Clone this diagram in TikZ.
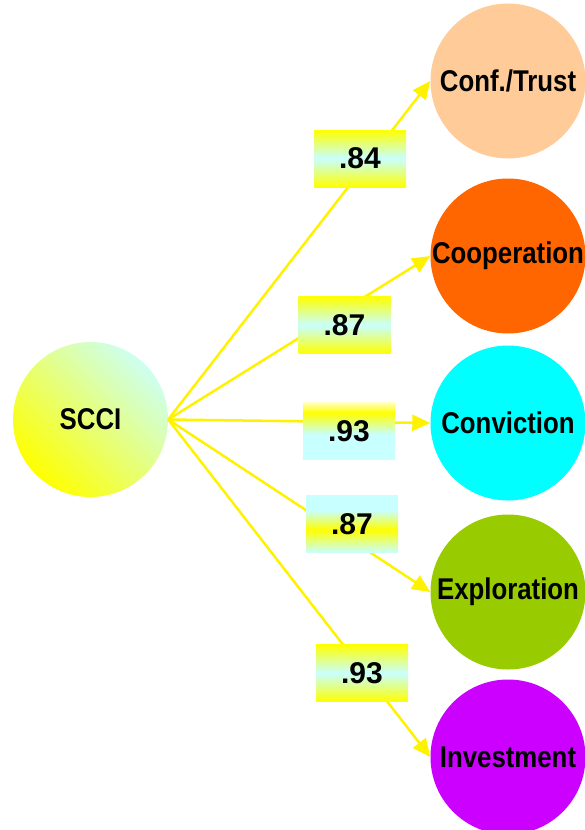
\documentclass[tikz,border=0pt]{standalone}
\usepackage{fontspec}
\setmainfont{Liberation Sans}
\newfontfamily\condfont{Liberation Sans}[FakeStretch=0.86]
\usetikzlibrary{arrows.meta}

\definecolor{paleCyan}{RGB}{200,255,255}
\definecolor{paleYellow}{RGB}{255,255,190}
\definecolor{rootCyan}{RGB}{205,255,240}
\definecolor{peach}{RGB}{255,204,153}
\definecolor{orangeC}{RGB}{255,102,0}
\definecolor{cyanC}{RGB}{0,255,255}
\definecolor{greenC}{RGB}{153,204,0}
\definecolor{purpleC}{RGB}{204,0,255}

% label box fills: the 25bp..75bp band is mapped onto the box (bottom..top)
\pgfdeclareverticalshading{ycy}{100bp}{color(0bp)=(yellow); color(25bp)=(yellow); color(50bp)=(paleCyan); color(75bp)=(yellow); color(100bp)=(yellow)}
\pgfdeclareverticalshading{wyc}{100bp}{color(0bp)=(paleCyan); color(25bp)=(paleCyan); color(47bp)=(paleCyan); color(66bp)=(yellow); color(75bp)=(paleYellow); color(100bp)=(paleYellow)}
\pgfdeclareverticalshading{cyc}{100bp}{color(0bp)=(paleCyan); color(25bp)=(paleCyan); color(45bp)=(yellow); color(62bp)=(paleCyan); color(75bp)=(paleCyan); color(100bp)=(paleCyan)}

\begin{document}
\begin{tikzpicture}[x=1pt,y=-1pt,
  lbl/.style={font=\condfont\bfseries\fontsize{30}{36}\selectfont},
  factor/.style={circle, minimum size=155pt, inner sep=0pt, lbl},
  link/.style={draw=yellow, line width=2.5pt, -{Triangle[length=18pt,width=16pt]}},
  weight/.style={shade, minimum width=92pt, minimum height=57pt, inner sep=0pt,
    font=\bfseries\fontsize{30}{36}\selectfont}]
\useasboundingbox (0,0) rectangle (585,830);

% latent construct
\node[factor, top color=rootCyan, bottom color=yellow, shading angle=-45] (scci) at (90.5,419.5) {SCCI};

% indicator constructs
\node[factor, fill=peach]   (trust) at (508,81)  {Conf./Trust};
\node[factor, fill=orangeC] (coop)  at (508,256) {Cooperation};
\node[factor, fill=cyanC]   (conv)  at (508,423) {Conviction};
\node[factor, fill=greenC]  (expl)  at (508,592) {Exploration};
\node[factor, fill=purpleC] (inv)   at (508,757) {Investment};

% loadings
\draw[link] (scci.east) -- (trust.west);
\draw[link] (scci.east) -- (coop.west);
\draw[link] (scci.east) -- (conv.west);
\draw[link] (scci.east) -- (expl.west);
\draw[link] (scci.east) -- (inv.west);

\node[weight, shading=ycy] (w1) at (360,158.5) {.84};
\node[weight, shading=ycy] (w2) at (344.5,325) {.87};
\node[weight, shading=wyc] (w3) at (349,431)   {.93};
\node[weight, shading=cyc] (w4) at (352,524)   {.87};
\node[weight, shading=ycy] (w5) at (362,673)   {.93};
\end{tikzpicture}
\end{document}
